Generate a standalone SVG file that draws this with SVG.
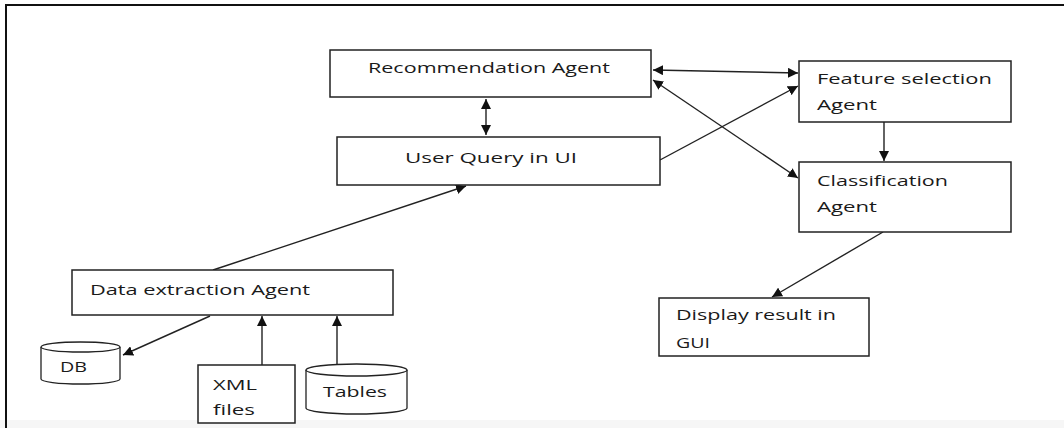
<svg xmlns="http://www.w3.org/2000/svg" width="1064" height="428" viewBox="0 0 1064 428">
<style>
.box{fill:#fff;stroke:#222;stroke-width:1.5}
.cyl{fill:#fff;stroke:#222;stroke-width:1.3}
.t{font-family:"Open Sans","DejaVu Sans",sans-serif;font-size:15px;fill:#1a1a1a}
.c{fill:none;stroke:#222;stroke-width:1.4}
</style>
<defs>
<marker id="ah" viewBox="0 0 10 10" refX="10" refY="5" markerWidth="10" markerHeight="10" markerUnits="userSpaceOnUse" orient="auto-start-reverse">
<path d="M0,0 L10,5 L0,10 z" fill="#111"/>
</marker>
</defs>
<rect x="0" y="0" width="1064" height="428" fill="#fff"/>
<rect x="0" y="420" width="1064" height="8" fill="#f6f6f6"/>
<path d="M6,428 V5 H1064" fill="none" stroke="#111" stroke-width="2"/>

<g id="connectors">
<line class="c" x1="486" y1="99" x2="486" y2="135" marker-start="url(#ah)" marker-end="url(#ah)"/>
<line class="c" x1="653" y1="70" x2="798" y2="73" marker-start="url(#ah)" marker-end="url(#ah)"/>
<line class="c" x1="653" y1="80" x2="798" y2="178" marker-start="url(#ah)" marker-end="url(#ah)"/>
<line class="c" x1="660" y1="160" x2="798" y2="86" marker-end="url(#ah)"/>
<line class="c" x1="884" y1="122" x2="884" y2="161" marker-end="url(#ah)"/>
<line class="c" x1="883" y1="232" x2="772" y2="297" marker-end="url(#ah)"/>
<line class="c" x1="213" y1="270" x2="466" y2="186" marker-end="url(#ah)"/>
<line class="c" x1="210" y1="316" x2="123" y2="355" marker-end="url(#ah)"/>
<line class="c" x1="262" y1="365" x2="262" y2="316" marker-end="url(#ah)"/>
<line class="c" x1="337" y1="364" x2="337" y2="316" marker-end="url(#ah)"/>
</g>

<g id="recommendation">
<rect class="box" x="330" y="50" width="321" height="47"/>
<text class="t" x="368" y="73" textLength="242" lengthAdjust="spacingAndGlyphs">Recommendation Agent</text>
</g>
<g id="userquery">
<rect class="box" x="337" y="137" width="323" height="48"/>
<text class="t" x="405" y="163" textLength="172" lengthAdjust="spacingAndGlyphs">User Query in UI</text>
</g>
<g id="feature">
<rect class="box" x="799" y="61" width="212" height="61"/>
<text class="t" x="817" y="84" textLength="175" lengthAdjust="spacingAndGlyphs">Feature selection</text>
<text class="t" x="817" y="110" textLength="60" lengthAdjust="spacingAndGlyphs">Agent</text>
</g>
<g id="classification">
<rect class="box" x="799" y="162" width="212" height="70"/>
<text class="t" x="817" y="186" textLength="131" lengthAdjust="spacingAndGlyphs">Classification</text>
<text class="t" x="817" y="212" textLength="60" lengthAdjust="spacingAndGlyphs">Agent</text>
</g>
<g id="display">
<rect class="box" x="659" y="298" width="210" height="58"/>
<text class="t" x="676" y="320" textLength="160" lengthAdjust="spacingAndGlyphs">Display result in</text>
<text class="t" x="676" y="348" textLength="34" lengthAdjust="spacingAndGlyphs">GUI</text>
</g>
<g id="dataextraction">
<rect class="box" x="72" y="270" width="321" height="45"/>
<text class="t" x="90" y="295" textLength="220" lengthAdjust="spacingAndGlyphs">Data extraction Agent</text>
</g>
<g id="db">
<path class="cyl" d="M41,347 V379 A39.5,5 0 0 0 120,379 V347"/>
<ellipse class="cyl" cx="80.5" cy="347" rx="39.5" ry="5"/>
<text class="t" x="60" y="372" textLength="27" lengthAdjust="spacingAndGlyphs">DB</text>
</g>
<g id="xmlfiles">
<rect class="box" x="198" y="365" width="97" height="58"/>
<text class="t" x="213" y="390" textLength="44" lengthAdjust="spacingAndGlyphs">XML</text>
<text class="t" x="213" y="415" textLength="42" lengthAdjust="spacingAndGlyphs">files</text>
</g>
<g id="tables">
<path class="cyl" d="M306,370 V408 A50.5,6 0 0 0 407,408 V370"/>
<ellipse class="cyl" cx="356.5" cy="370" rx="50.5" ry="6"/>
<text class="t" x="323" y="397" textLength="64" lengthAdjust="spacingAndGlyphs">Tables</text>
</g>
</svg>
